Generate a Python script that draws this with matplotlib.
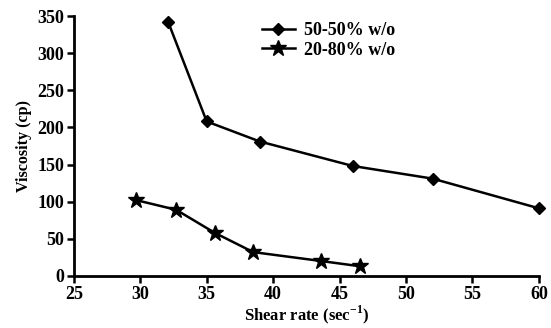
import matplotlib.pyplot as plt

# ---------------- DATA ---------------- #
shear_5050 = [32.1, 35.0, 39.0, 46.0, 52.0, 60.0]
visc_5050 = [342, 208, 181, 148, 131, 91]

shear_2080 = [29.7, 32.7, 35.6, 38.5, 43.6, 46.5]
visc_2080 = [102, 89, 58, 32, 20, 13]

series_labels = ["50-50% w/o", "20-80% w/o"]
xticks = [25, 30, 35, 40, 45, 50, 55, 60]
yticks = [0, 50, 100, 150, 200, 250, 300, 350]
# -------------------------------------- #

plt.rcParams['font.family'] = ['Liberation Serif', 'DejaVu Serif']
plt.rcParams['font.weight'] = 'bold'
plt.rcParams['mathtext.fontset'] = 'custom'
plt.rcParams['mathtext.rm'] = 'Liberation Serif:bold'

fig = plt.figure(figsize=(5.51, 3.28), dpi=100)
ax = fig.add_axes([0.134, 0.159, 0.844, 0.792])

ax.plot(shear_5050, visc_5050, color='black', lw=1.8, marker='D', ms=6,
        clip_on=False, label=series_labels[0])
ax.plot(shear_2080, visc_2080, color='black', lw=1.8, marker='*', ms=12,
        clip_on=False, label=series_labels[1])

ax.set_xlim(25, 60)
ax.set_ylim(0, 350)
ax.set_xticks(xticks)
ax.set_yticks(yticks)

for side in ['top', 'right']:
    ax.spines[side].set_visible(False)
for side in ['left', 'bottom']:
    ax.spines[side].set_linewidth(2)
ax.tick_params(direction='out', length=5, width=1.8, labelsize=13, pad=2)

ax.set_xlabel(r"Shear rate (sec$^{-1}$)", fontsize=12, fontweight='bold',
              labelpad=1)
ax.set_ylabel("Viscosity (cp)", fontsize=11.6, fontweight='bold', labelpad=4)

leg = ax.legend(loc='upper left', bbox_to_anchor=(0.37, 1.04), frameon=False,
                numpoints=1, handlelength=1.8, handletextpad=0.5,
                labelspacing=0.15, fontsize=13)

plt.savefig("out.png", dpi=100)
